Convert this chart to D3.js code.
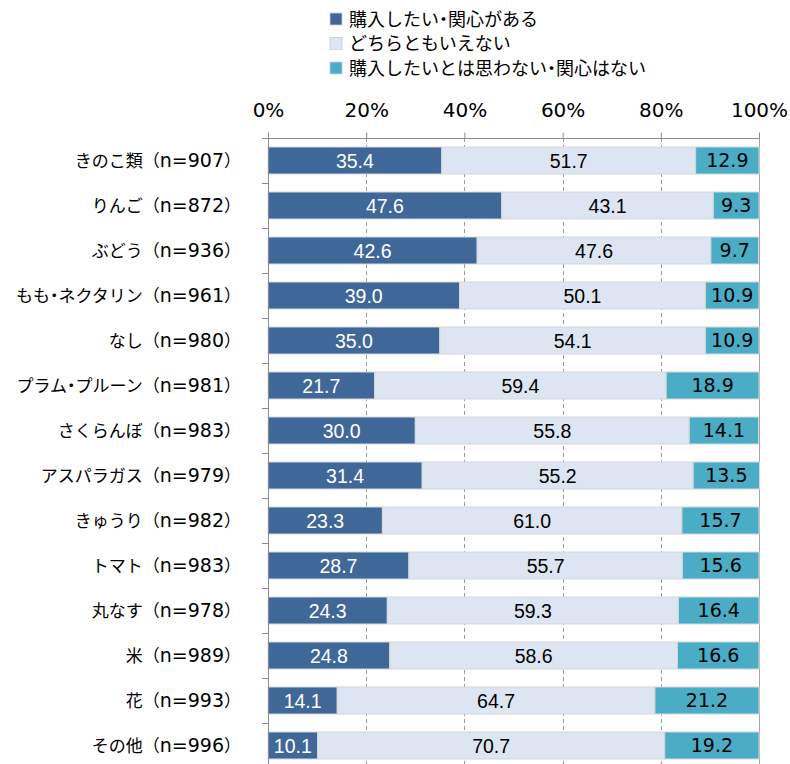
<!DOCTYPE html>
<html lang="ja">
<head>
<meta charset="utf-8">
<title>購入意向</title>
<script src="https://d3js.org/d3.v7.min.js"></script>
<style>
  body { margin: 0; background: #fff; }
  text { font-family: "Noto Sans CJK JP", "Noto Sans", sans-serif; }
  .dot { font-feature-settings: "palt"; }
</style>
</head>
<body>
<script>
// data
var categories = ["きのこ類（n=907）", "りんご（n=872）", "ぶどう（n=936）", "もも・ネクタリン（n=961）",
  "なし（n=980）", "プラム・プルーン（n=981）", "さくらんぼ（n=983）", "アスパラガス（n=979）",
  "きゅうり（n=982）", "トマト（n=983）", "丸なす（n=978）", "米（n=989）", "花（n=993）", "その他（n=996）"];
var seriesNames = ["購入したい・関心がある", "どちらともいえない", "購入したいとは思わない・関心はない"];
var wantValues = [35.4, 47.6, 42.6, 39.0, 35.0, 21.7, 30.0, 31.4, 23.3, 28.7, 24.3, 24.8, 14.1, 10.1];
var neutralValues = [51.7, 43.1, 47.6, 50.1, 54.1, 59.4, 55.8, 55.2, 61.0, 55.7, 59.3, 58.6, 64.7, 70.7];
var notValues = [12.9, 9.3, 9.7, 10.9, 10.9, 18.9, 14.1, 13.5, 15.7, 15.6, 16.4, 16.6, 21.2, 19.2];
var tickValues = [0, 20, 40, 60, 80, 100];

var colors = ["#3f6899", "#dce5f1", "#4bacc6"];
var textColors = ["#fff", "#000", "#000"];
var textFonts = ["'Liberation Sans', Arial, sans-serif", "'Liberation Sans', Arial, sans-serif", "'DejaVu Sans', Verdana, sans-serif"];
var textSizes = ["19.5px", "19.5px", "19px"];
var latinFont = "'DejaVu Sans', Verdana, sans-serif";

var w = 790, h = 764;
var plotLeft = 268, plotRight = 759, plotTop = 138, band = 45;

var svg = d3.select("body").append("svg").attr("width", w).attr("height", h);

var x = d3.scaleLinear().domain([0, 100]).range([plotLeft, plotRight]);
var y = d3.scaleBand().domain(categories).range([plotTop, plotTop + band * categories.length]).paddingInner(0.4).paddingOuter(0.2);

// japanese text with a narrow middle dot (like Meiryo UI)
function addJapanese(sel, str) {
  var parts = str.split("・");
  parts.forEach(function(p, i) {
    if (i > 0) sel.append("tspan").attr("class", "dot").text("・");
    sel.append("tspan").text(p);
  });
}

// build rows
var rows = categories.map(function(c, i) {
  var vals = [wantValues[i], neutralValues[i], notValues[i]];
  var x0 = 0;
  return vals.map(function(v, k) {
    var seg = { cat: c, k: k, v: v, x0: x0, x1: x0 + v };
    x0 += v;
    return seg;
  });
});

// gridlines
svg.append("g").selectAll("line")
  .data([20, 40, 60, 80])
  .enter().append("line")
  .attr("x1", function(d) { return Math.round(x(d)) + 0.5; })
  .attr("x2", function(d) { return Math.round(x(d)) + 0.5; })
  .attr("y1", plotTop).attr("y2", h)
  .attr("stroke", "#9a9a9a").attr("stroke-dasharray", "4,3");
svg.append("line")
  .attr("x1", x(100) + 0.5).attr("x2", x(100) + 0.5)
  .attr("y1", plotTop).attr("y2", h)
  .attr("stroke", "#a6a6a6");

// bars
var g = svg.append("g");
rows.forEach(function(segs) {
  g.selectAll(null).data(segs).enter().append("rect")
    .attr("x", function(d) { return x(d.x0); })
    .attr("y", function(d) { return y(d.cat); })
    .attr("width", function(d) { return x(d.x1) - x(d.x0); })
    .attr("height", y.bandwidth())
    .attr("fill", function(d) { return colors[d.k]; })
    .attr("stroke", "#d3d7dc").attr("stroke-width", 1);
  g.selectAll(null).data(segs).enter().append("text")
    .attr("x", function(d) { return (x(d.x0) + x(d.x1)) / 2; })
    .attr("y", function(d) { return y(d.cat) + y.bandwidth() / 2; })
    .attr("dy", "0.36em")
    .attr("text-anchor", "middle")
    .style("font-family", function(d) { return textFonts[d.k]; })
    .style("font-size", function(d) { return textSizes[d.k]; })
    .attr("fill", function(d) { return textColors[d.k]; })
    .text(function(d) { return d.v.toFixed(1); });
});

// top axis
var xAxis = svg.append("g")
  .attr("transform", "translate(0," + (plotTop + 0.5) + ")")
  .call(d3.axisTop(x).tickValues(tickValues).tickSize(6).tickSizeOuter(0).tickFormat(function(d) { return d + "%"; }));
xAxis.select(".domain").attr("stroke", "#8c8c8c").attr("d", "M" + (plotLeft - 6) + ",0H" + (plotRight + 0.5));
xAxis.selectAll(".tick line").attr("stroke", "#8c8c8c");
xAxis.selectAll(".tick text")
  .attr("y", -22)
  .style("font-family", latinFont)
  .style("font-size", "20px").attr("fill", "#000");

// left axis
var yTicks = d3.range(categories.length + 1).map(function(i) { return plotTop + i * band; });
svg.append("line")
  .attr("x1", plotLeft + 0.5).attr("x2", plotLeft + 0.5)
  .attr("y1", plotTop).attr("y2", h)
  .attr("stroke", "#8c8c8c");
svg.append("g").selectAll("line").data(yTicks.slice(1)).enter().append("line")
  .attr("x1", plotLeft - 6).attr("x2", plotLeft)
  .attr("y1", function(d) { return d + 0.5; }).attr("y2", function(d) { return d + 0.5; })
  .attr("stroke", "#8c8c8c");

// category labels: name, full-width parens, latin n=
svg.append("g").selectAll("text").data(categories).enter().append("text")
  .attr("x", 241)
  .attr("y", function(d) { return y(d) + y.bandwidth() / 2; })
  .attr("dy", "0.36em")
  .attr("text-anchor", "end")
  .style("font-size", "17px")
  .attr("fill", "#000")
  .each(function(d) {
    var m = d.match(/^(.*)（(.*)）$/);
    var t = d3.select(this);
    addJapanese(t, m[1]);
    t.append("tspan").text("（");
    t.append("tspan").style("font-family", latinFont).style("font-size", "19px").text(m[2]);
    t.append("tspan").text("）");
  });

// legend
var legend = svg.append("g").attr("transform", "translate(330,13)");
var li = legend.selectAll("g").data(seriesNames).enter().append("g")
  .attr("transform", function(d, i) { return "translate(0," + (i * 24.5) + ")"; });
li.append("rect")
  .attr("x", 0).attr("y", 0).attr("width", 12).attr("height", 12)
  .attr("fill", function(d, i) { return colors[i]; })
  .attr("stroke", "#c9ced6").attr("stroke-width", 0.8);
li.append("text")
  .attr("x", 19).attr("y", 6.5).attr("dy", "0.36em")
  .style("font-size", "18px").attr("fill", "#000")
  .each(function(d) { addJapanese(d3.select(this), d); });
</script>
</body>
</html>
